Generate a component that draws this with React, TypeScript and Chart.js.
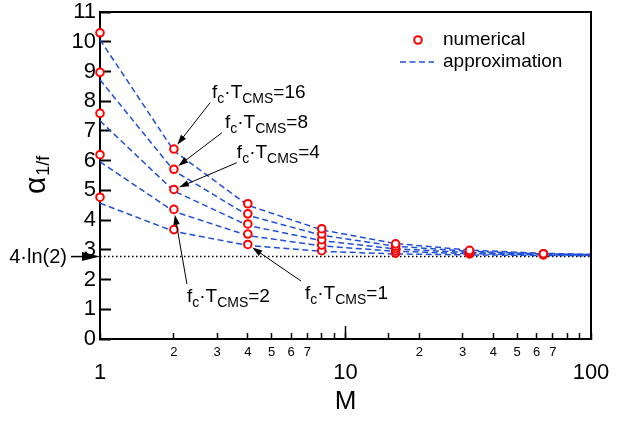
import { useEffect, useRef } from 'react';
import { Chart, registerables } from 'chart.js';

Chart.register(...registerables);

// ---------- data ----------
const M_NUM = [1, 2, 4, 8, 16, 32, 64];
const NUM_16 = [10.3, 6.39, 4.55, 3.71, 3.2, 2.98, 2.87];
const NUM_8 = [8.97, 5.71, 4.21, 3.53, 3.12, 2.95, 2.86];
const NUM_4 = [7.59, 5.03, 3.87, 3.34, 3.04, 2.92, 2.85];
const NUM_2 = [6.2, 4.36, 3.53, 3.16, 2.96, 2.89, 2.84];
const NUM_1 = [4.77, 3.68, 3.18, 2.97, 2.89, 2.86, 2.83];

const M_APPROX = [1, 2, 4, 8, 16, 32, 64, 100];
const APPROX_16 = [10.07, 6.33, 4.5, 3.67, 3.21, 2.99, 2.88, 2.85];
const APPROX_8 = [8.72, 5.66, 4.16, 3.49, 3.12, 2.95, 2.86, 2.84];
const APPROX_4 = [7.34, 4.98, 3.82, 3.31, 3.03, 2.91, 2.85, 2.83];
const APPROX_2 = [5.96, 4.29, 3.48, 3.13, 2.95, 2.87, 2.83, 2.82];
const APPROX_1 = [4.57, 3.62, 3.15, 2.95, 2.86, 2.83, 2.81, 2.8];

const SERIES_LABELS = ['16', '8', '4', '2', '1'];
const REF_LEVEL = 2.773; // 4·ln(2)
const REF_LABEL = '4·ln(2)';

const X_MIN = 1;
const X_MAX = 100;
const Y_MIN = 0;
const Y_MAX = 11;
const MAJOR_X = [1, 10, 100];
const MINOR_X_LABELLED = [2, 3, 4, 5, 6, 7];

// ---------- styles ----------
const FONT = "'Liberation Sans', Arial, Helvetica, sans-serif";
const RED = '#ff0000';
const BLUE = '#1f4fd6';

// annotation placement (data coordinates): label baseline-left, arrow start, target point
const ANNOTATIONS = [
  { val: '16', label: [2.86, 8.11], from: [2.81, 7.95], series: 0, idx: 1 },
  { val: '8', label: [3.23, 7.1], from: [3.14, 6.94], series: 1, idx: 1 },
  { val: '4', label: [3.61, 6.09], from: [3.61, 5.93], series: 2, idx: 1 },
  { val: '2', label: [2.26, 1.25], from: [2.26, 1.85], series: 3, idx: 1 },
  { val: '1', label: [6.84, 1.35], from: [6.59, 1.95], series: 4, idx: 2 },
];

const NUM_SERIES = [NUM_16, NUM_8, NUM_4, NUM_2, NUM_1];
const APPROX_SERIES = [APPROX_16, APPROX_8, APPROX_4, APPROX_2, APPROX_1];

type Part = { t: string; size: number; dy?: number };

function drawRich(ctx: CanvasRenderingContext2D, x: number, y: number, parts: Part[]) {
  let cx = x;
  ctx.textAlign = 'left';
  ctx.textBaseline = 'alphabetic';
  for (const p of parts) {
    ctx.font = `${p.size}px ${FONT}`;
    ctx.fillText(p.t, cx, y + (p.dy || 0));
    cx += ctx.measureText(p.t).width;
  }
}

function fcParts(val: string): Part[] {
  return [
    { t: 'f', size: 19 },
    { t: 'c', size: 14, dy: 5 },
    { t: '·T', size: 19 },
    { t: 'CMS', size: 14, dy: 5 },
    { t: '=' + val, size: 19 },
  ];
}

function arrow(
  ctx: CanvasRenderingContext2D,
  x1: number, y1: number, x2: number, y2: number,
  headLen: number, headW: number, lw: number
) {
  const a = Math.atan2(y2 - y1, x2 - x1);
  const c = Math.cos(a);
  const s = Math.sin(a);
  ctx.lineWidth = lw;
  ctx.beginPath();
  ctx.moveTo(x1, y1);
  ctx.lineTo(x2 - c * headLen * 0.7, y2 - s * headLen * 0.7);
  ctx.stroke();
  ctx.beginPath();
  ctx.moveTo(x2, y2);
  ctx.lineTo(x2 - headLen * c + headW * s, y2 - headLen * s - headW * c);
  ctx.lineTo(x2 - headLen * c - headW * s, y2 - headLen * s + headW * c);
  ctx.closePath();
  ctx.fill();
}

const decorPlugin = {
  id: 'decor',
  afterDraw(chart: any) {
    const ctx: CanvasRenderingContext2D = chart.ctx;
    const { left, right, top, bottom } = chart.chartArea;
    const xs = chart.scales.x;
    const ys = chart.scales.y;
    ctx.save();
    ctx.strokeStyle = '#000';
    ctx.fillStyle = '#000';

    // frame top/right
    ctx.lineWidth = 2;
    ctx.beginPath();
    ctx.moveTo(left, top);
    ctx.lineTo(right, top);
    ctx.lineTo(right, bottom);
    ctx.stroke();

    // longer major tick at 10
    const x10 = xs.getPixelForValue(10);
    ctx.lineWidth = 1.5;
    ctx.beginPath();
    ctx.moveTo(x10, bottom);
    ctx.lineTo(x10, bottom - 13);
    ctx.stroke();

    // y-axis title α_{1/f} rotated
    ctx.save();
    ctx.translate(45, 194);
    ctx.rotate(-Math.PI / 2);
    ctx.textAlign = 'left';
    ctx.textBaseline = 'alphabetic';
    ctx.font = `30px ${FONT}`;
    ctx.fillText('α', 0, 0);
    const wa = ctx.measureText('α').width;
    ctx.font = `18px ${FONT}`;
    ctx.fillText('1/f', wa + 1, 4);
    ctx.restore();

    // 4·ln(2) label and arrow
    const yRef = ys.getPixelForValue(REF_LEVEL);
    ctx.font = `20px ${FONT}`;
    ctx.textAlign = 'right';
    ctx.textBaseline = 'middle';
    ctx.fillText(REF_LABEL, 67, yRef + 1);
    arrow(ctx, 71, yRef, left, yRef, 18, 4.5, 1.5);

    // fc·TCMS annotations
    for (const a of ANNOTATIONS) {
      const lx = xs.getPixelForValue(a.label[0]);
      const ly = ys.getPixelForValue(a.label[1]);
      drawRich(ctx, lx, ly, fcParts(a.val));
      const sx = xs.getPixelForValue(a.from[0]);
      const sy = ys.getPixelForValue(a.from[1]);
      const px = xs.getPixelForValue(M_NUM[a.idx]);
      const py = ys.getPixelForValue(NUM_SERIES[a.series][a.idx]);
      const d = Math.hypot(px - sx, py - sy);
      const tx = px - ((px - sx) / d) * 5.5;
      const ty = py - ((py - sy) / d) * 5.5;
      arrow(ctx, sx, sy, tx, ty, 10, 3.2, 1);
    }

    // legend
    ctx.lineWidth = 2;
    ctx.strokeStyle = RED;
    ctx.fillStyle = '#fff';
    ctx.beginPath();
    ctx.arc(418, 40, 3.8, 0, Math.PI * 2);
    ctx.fill();
    ctx.stroke();
    ctx.strokeStyle = BLUE;
    ctx.lineWidth = 1.5;
    ctx.setLineDash([6, 3.5]);
    ctx.beginPath();
    ctx.moveTo(400, 62);
    ctx.lineTo(434, 62);
    ctx.stroke();
    ctx.setLineDash([]);
    ctx.fillStyle = '#000';
    ctx.font = `19px ${FONT}`;
    ctx.textAlign = 'left';
    ctx.textBaseline = 'middle';
    ctx.fillText('numerical', 443, 40);
    ctx.fillText('approximation', 443, 62);

    ctx.restore();
  },
};

export default function App() {
  const ref = useRef<HTMLCanvasElement>(null);
  useEffect(() => {
    const canvas = ref.current;
    if (!canvas) return;
    const datasets: any[] = [];
    NUM_SERIES.forEach((s, i) => {
      datasets.push({
        label: 'numerical fcT=' + SERIES_LABELS[i],
        data: M_NUM.map((m, j) => ({ x: m, y: s[j] })),
        showLine: false,
        pointRadius: 3.8,
        pointBorderWidth: 2,
        pointBorderColor: RED,
        pointBackgroundColor: '#ffffff',
        clip: false,
        order: 0,
      });
    });
    APPROX_SERIES.forEach((s, i) => {
      datasets.push({
        label: 'approximation fcT=' + SERIES_LABELS[i],
        data: M_APPROX.map((m, j) => ({ x: m, y: s[j] })),
        borderColor: BLUE,
        borderWidth: 1.5,
        borderDash: [6, 3.5],
        pointRadius: 0,
        fill: false,
        tension: 0,
        order: 1,
      });
    });
    datasets.push({
      label: REF_LABEL,
      data: [{ x: X_MIN, y: REF_LEVEL }, { x: X_MAX, y: REF_LEVEL }],
      borderColor: '#000',
      borderWidth: 1.5,
      borderDash: [1.5, 2.5],
      pointRadius: 0,
      fill: false,
      order: 2,
    });

    const chart = new Chart(canvas, {
      type: 'line',
      data: { datasets },
      options: {
        animation: false,
        responsive: false,
        events: [],
        layout: { padding: { left: 0, right: 28, top: 12, bottom: 0 } },
        plugins: { legend: { display: false }, tooltip: { enabled: false } },
        scales: {
          x: {
            type: 'logarithmic',
            min: X_MIN,
            max: X_MAX,
            position: 'bottom',
            border: { display: true, color: '#000', width: 2 },
            grid: {
              drawOnChartArea: false,
              drawTicks: true,
              tickLength: -6,
              tickColor: '#000',
              tickWidth: 1.5,
            },
            ticks: {
              autoSkip: false,
              maxRotation: 0,
              minRotation: 0,
              padding: 11.2,
              color: '#000',
              font: (c: any) => {
                const v = c.tick ? Number(c.tick.value) : 0;
                return MAJOR_X.includes(v)
                  ? { size: 22, lineHeight: 0.88, family: FONT }
                  : { size: 13, lineHeight: 1.2, family: FONT };
              },
              callback: (value: any) => {
                const v = Number(value);
                if (MAJOR_X.includes(v)) return ['', String(v)];
                const sig = v / Math.pow(10, Math.floor(Math.log10(v) + 1e-9));
                const lead = Math.round(sig);
                if (Math.abs(sig - lead) > 1e-6) return '';
                return MINOR_X_LABELLED.includes(lead) ? String(lead) : '';
              },
            },
            title: {
              display: true,
              text: 'M',
              color: '#000',
              font: { size: 26, family: FONT },
              padding: { top: 0, bottom: 7 },
            },
            afterFit: (s: any) => {
              s.height = 85;
              s.paddingLeft = 0;
              s.paddingRight = 0;
            },
          },
          y: {
            type: 'linear',
            min: Y_MIN,
            max: Y_MAX,
            border: { display: true, color: '#000', width: 2 },
            grid: {
              drawOnChartArea: false,
              drawTicks: true,
              tickLength: -11,
              tickColor: '#000',
              tickWidth: 2,
            },
            ticks: {
              stepSize: 1,
              padding: 15,
              color: '#000',
              font: { size: 22, lineHeight: 1, family: FONT },
            },
            afterFit: (s: any) => {
              s.width = 100;
              s.paddingTop = 0;
              s.paddingBottom = 0;
            },
          },
        },
      } as any,
      plugins: [decorPlugin],
    });
    return () => chart.destroy();
  }, []);

  return (
    <div style={{ position: 'absolute', left: 0, top: 0, width: 619, height: 424 }}>
      <canvas ref={ref} width={619} height={424} style={{ display: 'block' }} />
    </div>
  );
}
